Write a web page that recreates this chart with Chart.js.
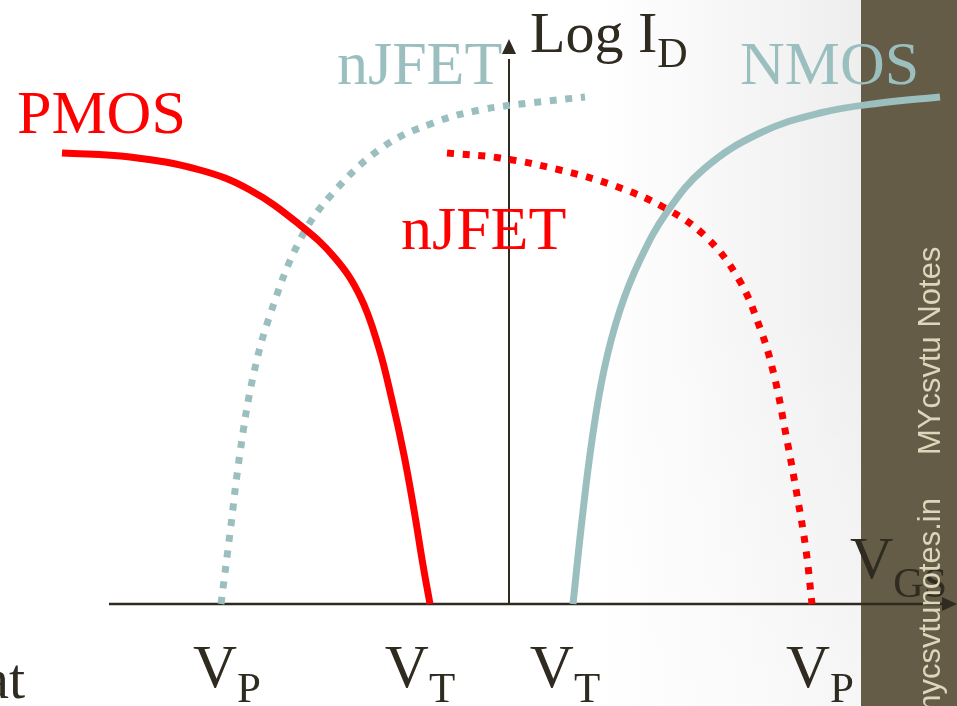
<!DOCTYPE html>
<html>
<head>
<meta charset="utf-8">
<title>Log ID vs VGS</title>
<script src="https://cdn.jsdelivr.net/npm/chart.js@4.4.1/dist/chart.umd.min.js"></script>
<style>
    html, body { margin: 0; padding: 0; background: #ffffff; overflow: hidden; }
    #wrap { width: 957px; height: 706px; }
</style>
</head>
<body>
<div id="wrap"><canvas id="transferChart" width="957" height="706"></canvas></div>
<script>
// VGS in arbitrary units, log ID in arbitrary units (0 = cut-off)
const pmosVgs   = [-8.94, -7.58, -6.18, -5.18, -4.18, -3.48, -2.98, -2.62, -2.34, -2.10, -1.90, -1.72, -1.58];
const pmosLogId = [9.02, 8.94, 8.68, 8.28, 7.58, 6.92, 6.16, 5.18, 4.08, 2.98, 1.88, 0.78, 0];

const pjfetVgs   = [-5.76, -5.58, -5.38, -5.12, -4.78, -4.18, -3.52, -2.52, -1.52, -0.58, 0.42, 1.52];
const pjfetLogId = [0, 1.42, 3.02, 4.54, 5.78, 7.28, 8.22, 9.14, 9.62, 9.88, 10.02, 10.14];

const njfetVgs   = [-1.24, -0.18, 1.02, 2.12, 3.12, 3.92, 4.58, 5.02, 5.30, 5.54, 5.76, 5.94, 6.06];
const njfetLogId = [9.02, 8.92, 8.68, 8.36, 7.92, 7.36, 6.52, 5.52, 4.58, 3.38, 2.18, 1.08, 0];

const nmosVgs   = [1.28, 1.46, 1.66, 1.90, 2.22, 2.62, 3.16, 3.92, 5.02, 6.22, 7.42, 8.62];
const nmosLogId = [0, 1.68, 3.28, 4.68, 5.88, 6.88, 7.84, 8.72, 9.42, 9.82, 10.02, 10.14];

// tick labels on the VGS axis
const tickValues = [-5.64, -1.78, 1.12, 6.22];
const tickMain   = ['V', 'V', 'V', 'V'];
const tickSubs   = ['P', 'T', 'T', 'P'];

const RED = '#ff0000';
const TEAL = '#9bbfbf';
const INK = '#2f2b20';
const SERIF = '"Liberation Serif", "Times New Roman", serif';

function toPoints(xs, ys) {
    return xs.map((x, i) => ({ x: x, y: ys[i] }));
}

function curve(label, xs, ys, color, dashed) {
    return {
        label: label,
        data: toPoints(xs, ys),
        showLine: true,
        borderColor: color,
        backgroundColor: color,
        borderWidth: 7,
        borderDash: dashed ? [7, 8.7] : [],
        borderCapStyle: 'butt',
        borderJoinStyle: 'round',
        tension: 0.4,
        pointRadius: 0,
        fill: false
    };
}

// slide background: white fading to grey, brown strip on the right
const backdrop = {
    id: 'backdrop',
    beforeDraw(chart) {
        const c = chart.ctx;
        const w = chart.width, h = chart.height;
        c.save();
        c.fillStyle = '#ffffff';
        c.fillRect(0, 0, w, h);
        const g = c.createLinearGradient(600, 0, 861, 0);
        g.addColorStop(0, 'rgba(238,238,238,0)');
        g.addColorStop(1, 'rgba(238,238,238,1)');
        c.fillStyle = g;
        c.fillRect(600, 0, 261, h);
        const v = c.createLinearGradient(0, 300, 0, h);
        v.addColorStop(0, 'rgba(255,255,255,0)');
        v.addColorStop(1, 'rgba(255,255,255,0.5)');
        c.fillStyle = v;
        c.fillRect(600, 300, 261, h - 300);
        c.fillStyle = '#655c48';
        c.fillRect(861, 0, w - 861, h);
        c.restore();
    }
};

function arrowHead(c, x, y, dir) {
    c.beginPath();
    if (dir === 'up') {
        c.moveTo(x, y);
        c.lineTo(x - 7, y + 15);
        c.lineTo(x + 7, y + 15);
    } else {
        c.moveTo(x, y);
        c.lineTo(x - 15, y - 7);
        c.lineTo(x - 15, y + 7);
    }
    c.closePath();
    c.fill();
}

// axes through the origin, with arrows
const axesLines = {
    id: 'axesLines',
    beforeDatasetsDraw(chart) {
        const c = chart.ctx;
        const xs = chart.scales.x, ys = chart.scales.y;
        const x0 = xs.getPixelForValue(0);
        const y0 = ys.getPixelForValue(0);
        c.save();
        c.strokeStyle = INK;
        c.fillStyle = INK;
        c.lineWidth = 2.5;
        c.beginPath();
        c.moveTo(xs.getPixelForValue(-8), y0);
        c.lineTo(xs.getPixelForValue(8.85), y0);
        c.stroke();
        arrowHead(c, xs.getPixelForValue(8.96), y0, 'right');
        c.lineWidth = 2;
        c.beginPath();
        c.moveTo(x0, y0);
        c.lineTo(x0, ys.getPixelForValue(10.9));
        c.stroke();
        arrowHead(c, x0, ys.getPixelForValue(11.3), 'up');
        c.restore();
    }
};

function subscripted(c, main, sub, x, y, mainSize, subSize, subDrop, align) {
    c.font = mainSize + 'px ' + SERIF;
    const wm = c.measureText(main).width;
    c.font = subSize + 'px ' + SERIF;
    const ws = c.measureText(sub).width;
    let left = x;
    if (align === 'center') left = x - (wm + ws) / 2;
    c.textAlign = 'left';
    c.font = mainSize + 'px ' + SERIF;
    c.fillText(main, left, y);
    c.font = subSize + 'px ' + SERIF;
    c.fillText(sub, left + wm, y + subDrop);
}

const annotations = {
    id: 'annotations',
    afterDraw(chart) {
        const c = chart.ctx;
        const xs = chart.scales.x, ys = chart.scales.y;
        const px = v => xs.getPixelForValue(v);
        const py = v => ys.getPixelForValue(v);
        c.save();
        c.textBaseline = 'alphabetic';

        c.font = '62px ' + SERIF;
        c.textAlign = 'left';
        c.fillStyle = RED;
        c.fillText('PMOS', px(-9.84), py(9.42));
        c.fillText('nJFET', px(-2.16), py(7.1));
        c.fillStyle = TEAL;
        c.fillText('nJFET', px(-3.44), py(10.4));
        c.fillText('NMOS', px(4.62), py(10.4));

        c.fillStyle = INK;
        subscripted(c, 'Log I', 'D', px(0.42), py(11.04), 58, 42, 15, 'left');
        subscripted(c, 'V', 'GS', px(6.82), py(0.52), 60, 42, 19, 'left');

        tickValues.forEach((v, i) => {
            subscripted(c, tickMain[i], tickSubs[i], px(v), py(-1.66), 61, 43, 15, 'center');
        });

        c.font = '58px ' + SERIF;
        c.textAlign = 'right';
        c.fillText('at', 25, 698);

        // site watermark running up the strip
        c.fillStyle = '#ddd6ba';
        c.font = '31px "Liberation Sans", Arial, sans-serif';
        c.textAlign = 'left';
        c.translate(940, 455);
        c.rotate(-Math.PI / 2);
        c.fillText('MYcsvtu Notes', 0, 0);
        c.textAlign = 'right';
        c.fillText('mycsvtunotes.in', -43, 0);
        c.restore();
    }
};

document.addEventListener('DOMContentLoaded', function() {
    const ctx = document.getElementById('transferChart').getContext('2d');
    new Chart(ctx, {
        type: 'scatter',
        data: {
            datasets: [
                curve('PMOS', pmosVgs, pmosLogId, RED, false),
                curve('nJFET (p)', pjfetVgs, pjfetLogId, TEAL, true),
                curve('nJFET', njfetVgs, njfetLogId, RED, true),
                curve('NMOS', nmosVgs, nmosLogId, TEAL, false)
            ]
        },
        options: {
            responsive: false,
            animation: false,
            layout: { padding: 0 },
            plugins: {
                legend: { display: false },
                tooltip: { enabled: false }
            },
            scales: {
                x: { type: 'linear', display: false, min: -10.18, max: 8.96 },
                y: { type: 'linear', display: false, min: -2.04, max: 12.08 }
            }
        },
        plugins: [backdrop, axesLines, annotations]
    });
});
</script>
</body>
</html>
